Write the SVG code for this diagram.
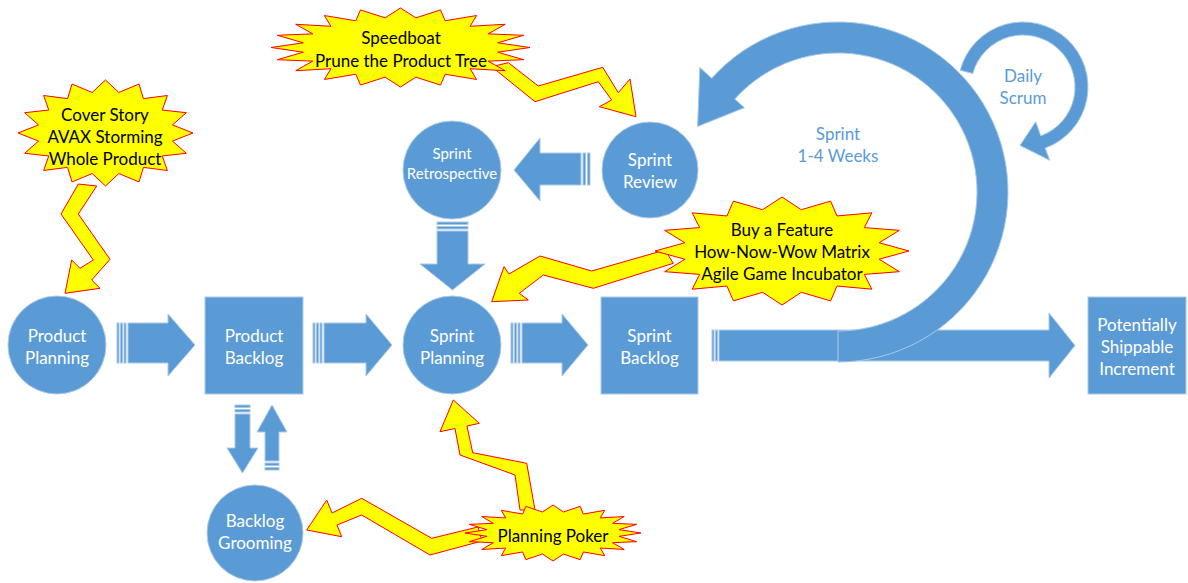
<svg xmlns="http://www.w3.org/2000/svg" xmlns:xlink="http://www.w3.org/1999/xlink" width="1188" height="583" viewBox="0 0 1188 583">
<style>
.b{fill:#5B9BD5;stroke:#A9C9EA;stroke-width:1}
.y{fill:#FFFF00;stroke:#FF0000;stroke-width:1;stroke-linejoin:miter}
.w{fill:#FFFFFF;font-family:Lato,"Liberation Sans",sans-serif;font-size:17px;text-anchor:middle;dominant-baseline:central}
.k{fill:#000000;font-family:Lato,"Liberation Sans",sans-serif;font-size:17px;text-anchor:middle;dominant-baseline:central}
.t{fill:#5B9BD5;font-family:Lato,"Liberation Sans",sans-serif;font-size:17px;text-anchor:middle;dominant-baseline:central}
</style>
<defs>
<polygon id="star16" vector-effect="non-scaling-stroke" points="0,-1 0.1522,-0.765 0.3827,-0.9239 0.4334,-0.6486 0.7071,-0.7071 0.6486,-0.4334 0.9239,-0.3827 0.765,-0.1522 1,0 0.765,0.1522 0.9239,0.3827 0.6486,0.4334 0.7071,0.7071 0.4334,0.6486 0.3827,0.9239 0.1522,0.765 0,1 -0.1522,0.765 -0.3827,0.9239 -0.4334,0.6486 -0.7071,0.7071 -0.6486,0.4334 -0.9239,0.3827 -0.765,0.1522 -1,0 -0.765,-0.1522 -0.9239,-0.3827 -0.6486,-0.4334 -0.7071,-0.7071 -0.4334,-0.6486 -0.3827,-0.9239 -0.1522,-0.765"/>
<polygon id="star20" vector-effect="non-scaling-stroke" points="0,-1 0.1189,-0.7507 0.309,-0.9511 0.345,-0.6772 0.5878,-0.809 0.5374,-0.5374 0.809,-0.5878 0.6772,-0.345 0.9511,-0.309 0.7507,-0.1189 1,0 0.7507,0.1189 0.9511,0.309 0.6772,0.345 0.809,0.5878 0.5374,0.5374 0.5878,0.809 0.345,0.6772 0.309,0.9511 0.1189,0.7507 0,1 -0.1189,0.7507 -0.309,0.9511 -0.345,0.6772 -0.5878,0.809 -0.5374,0.5374 -0.809,0.5878 -0.6772,0.345 -0.9511,0.309 -0.7507,0.1189 -1,0 -0.7507,-0.1189 -0.9511,-0.309 -0.6772,-0.345 -0.809,-0.5878 -0.5374,-0.5374 -0.5878,-0.809 -0.345,-0.6772 -0.309,-0.9511 -0.1189,-0.7507"/>
</defs>

<g id="connectors">
  <!-- Product Planning -> Product Backlog -->
  <g id="arrow-pp-pb">
    <rect class="b" x="117" y="323" width="2" height="40"/>
    <rect class="b" x="120.5" y="323" width="2" height="40"/>
    <rect class="b" x="124" y="323" width="2" height="40"/>
    <path class="b" d="M128 323 H168 V314 L195 345 L168 376 V363 H128 Z"/>
  </g>
  <!-- Product Backlog -> Sprint Planning -->
  <g id="arrow-pb-sp">
    <rect class="b" x="313" y="323" width="2" height="40"/>
    <rect class="b" x="316.5" y="323" width="2" height="40"/>
    <rect class="b" x="320" y="323" width="2" height="40"/>
    <path class="b" d="M324 323 H366 V314 L392 345 L366 376 V363 H324 Z"/>
  </g>
  <!-- Sprint Planning -> Sprint Backlog -->
  <g id="arrow-sp-sb">
    <rect class="b" x="511" y="323" width="2" height="40"/>
    <rect class="b" x="514.5" y="323" width="2" height="40"/>
    <rect class="b" x="518" y="323" width="2" height="40"/>
    <path class="b" d="M522 323 H562 V314 L588 345 L562 376 V363 H522 Z"/>
  </g>
  <!-- Sprint Backlog -> Potentially Shippable Increment -->
  <g id="arrow-sb-psi">
    <rect class="b" x="712" y="330" width="2" height="31"/>
    <rect class="b" x="715.5" y="330" width="2" height="31"/>
    <path class="b" d="M719 330 H1049 V313 L1075 345.5 L1049 378 V361 H719 Z"/>
  </g>
  <!-- Daily Scrum loop -->
  <path id="daily-scrum-loop" class="b" d="M960.2 70.2 A65 65 0 1 1 1045.2 148.1 L1049.7 160.3 L1020 145.4 L1035.7 121.8 L1040.8 135.9 A52 52 0 1 0 972.8 73.5 Z"/>
  <!-- Sprint loop -->
  <path id="sprint-loop" class="b" d="M838 362 A170 170 0 1 0 711.7 78.2 L699.8 67.5 L697.6 126.5 L744.4 107.7 L734.7 99 A139 139 0 1 1 838 331 Z"/>
  <!-- Sprint Review -> Sprint Retrospective -->
  <g id="arrow-sr-sretro">
    <rect class="b" x="587.5" y="153" width="2.5" height="32"/>
    <rect class="b" x="583" y="153" width="2.5" height="32"/>
    <path class="b" d="M581 153 H540 V138 L514 170 L540 201 V185 H581 Z"/>
  </g>
  <!-- Sprint Retrospective -> Sprint Planning -->
  <g id="arrow-sretro-sp">
    <rect class="b" x="437" y="222" width="31" height="2.5"/>
    <rect class="b" x="437" y="226.5" width="31" height="2.5"/>
    <path class="b" d="M437 231 V264 H420 L452.5 290 L485 264 H468 V231 Z"/>
  </g>
  <!-- Product Backlog -> Backlog Grooming -->
  <g id="arrow-pb-bg">
    <rect class="b" x="235" y="405" width="15" height="2.5"/>
    <rect class="b" x="235" y="409.5" width="15" height="2.5"/>
    <path class="b" d="M235 414 V448 H227 L242.5 473 L258 448 H250 V414 Z"/>
  </g>
  <!-- Backlog Grooming -> Product Backlog -->
  <g id="arrow-bg-pb">
    <rect class="b" x="265" y="463" width="14" height="2.5"/>
    <rect class="b" x="265" y="467.5" width="14" height="2.5"/>
    <path class="b" d="M265 461 V432 H257 L272 405 L287 432 H279 V461 Z"/>
  </g>
  <!-- Lightning arrows -->
  <polygon id="bolt-cover" class="y" points="78.3,184 61,214 93.3,260 80,268.3 71.7,260 65,293.3 100,288.3 91.7,280 110,259.3 78.3,214 96.7,186"/>
  <polygon id="bolt-speedboat" class="y" points="508.3,62.7 538.3,86 602.7,67.3 618.3,92.7 630,79 636,116.7 599.3,106.7 611.7,100 598.3,81.7 535,101.7 491.7,66.7"/>
  <polygon id="bolt-buy" class="y" points="665,250 591.7,271 540,256 509,274 504,266.7 491.7,301.7 528.3,300 519.3,293.3 543.3,275 593.3,288.3 673.3,263.3"/>
  <polygon id="bolt-poker-up" class="y" points="453.3,400 479.3,423.3 467,426 472.7,452.7 526.7,463.3 535,510 520,510 515,475 460,455 455,428.5 440,431.7"/>
  <polygon id="bolt-poker-left" class="y" points="306.7,530 326.7,500 332,513 361.7,498.3 431.7,538.3 478,527 482,541 430,555 361.7,515 337,525 341.7,536.7"/>
</g>

<g id="product-planning">
  <circle class="b" cx="57" cy="345" r="49"/>
  <text class="w" x="57" y="335">Product</text>
  <text class="w" x="57" y="357">Planning</text>
</g>
<g id="product-backlog">
  <rect class="b" x="205" y="297" width="98" height="97"/>
  <text class="w" x="254" y="335">Product</text>
  <text class="w" x="254" y="357">Backlog</text>
</g>
<g id="sprint-planning">
  <circle class="b" cx="452" cy="345" r="49"/>
  <text class="w" x="452" y="335">Sprint</text>
  <text class="w" x="452" y="357">Planning</text>
</g>
<g id="sprint-backlog">
  <rect class="b" x="601" y="297" width="97" height="97"/>
  <text class="w" x="649.5" y="335">Sprint</text>
  <text class="w" x="649.5" y="357">Backlog</text>
</g>
<g id="potentially-shippable-increment">
  <rect class="b" x="1088" y="297" width="98" height="97"/>
  <text class="w" x="1137" y="324">Potentially</text>
  <text class="w" x="1137" y="346">Shippable</text>
  <text class="w" x="1137" y="368">Increment</text>
</g>
<g id="sprint-review">
  <circle class="b" cx="650" cy="170" r="48"/>
  <text class="w" x="650" y="159">Sprint</text>
  <text class="w" x="650" y="181">Review</text>
</g>
<g id="sprint-retrospective">
  <circle class="b" cx="452" cy="170" r="49"/>
  <text class="w" x="452" y="153" style="font-size:15px">Sprint</text>
  <text class="w" x="452" y="173" style="font-size:15px">Retrospective</text>
</g>
<g id="backlog-grooming">
  <circle class="b" cx="255" cy="533" r="48"/>
  <text class="w" x="255" y="520">Backlog</text>
  <text class="w" x="255" y="542">Grooming</text>
</g>
<g id="sprint-label">
  <text class="t" x="838" y="133">Sprint</text>
  <text class="t" x="838" y="155">1-4 Weeks</text>
</g>
<g id="daily-scrum-label">
  <text class="t" x="1023" y="75">Daily</text>
  <text class="t" x="1023" y="97">Scrum</text>
</g>
<g id="speedboat">
  <use xlink:href="#star20" class="y" transform="translate(400.5 47.5) scale(129.5 39.5)"/>
  <text class="k" x="401" y="37">Speedboat</text>
  <text class="k" x="401" y="60">Prune the Product Tree</text>
</g>
<g id="cover-story">
  <use xlink:href="#star16" class="y" transform="translate(105.5 133) scale(87.5 53)"/>
  <text class="k" x="105" y="114">Cover Story</text>
  <text class="k" x="105" y="136">AVAX Storming</text>
  <text class="k" x="105" y="158">Whole Product</text>
</g>
<g id="buy-a-feature">
  <use xlink:href="#star16" class="y" transform="translate(782 251) scale(127 54)"/>
  <text class="k" x="782" y="229">Buy a Feature</text>
  <text class="k" x="782" y="251">How-Now-Wow Matrix</text>
  <text class="k" x="782" y="273">Agile Game Incubator</text>
</g>
<g id="planning-poker">
  <use xlink:href="#star20" class="y" transform="translate(553 533) scale(88 28)"/>
  <text class="k" x="553" y="535">Planning Poker</text>
</g>
</svg>
